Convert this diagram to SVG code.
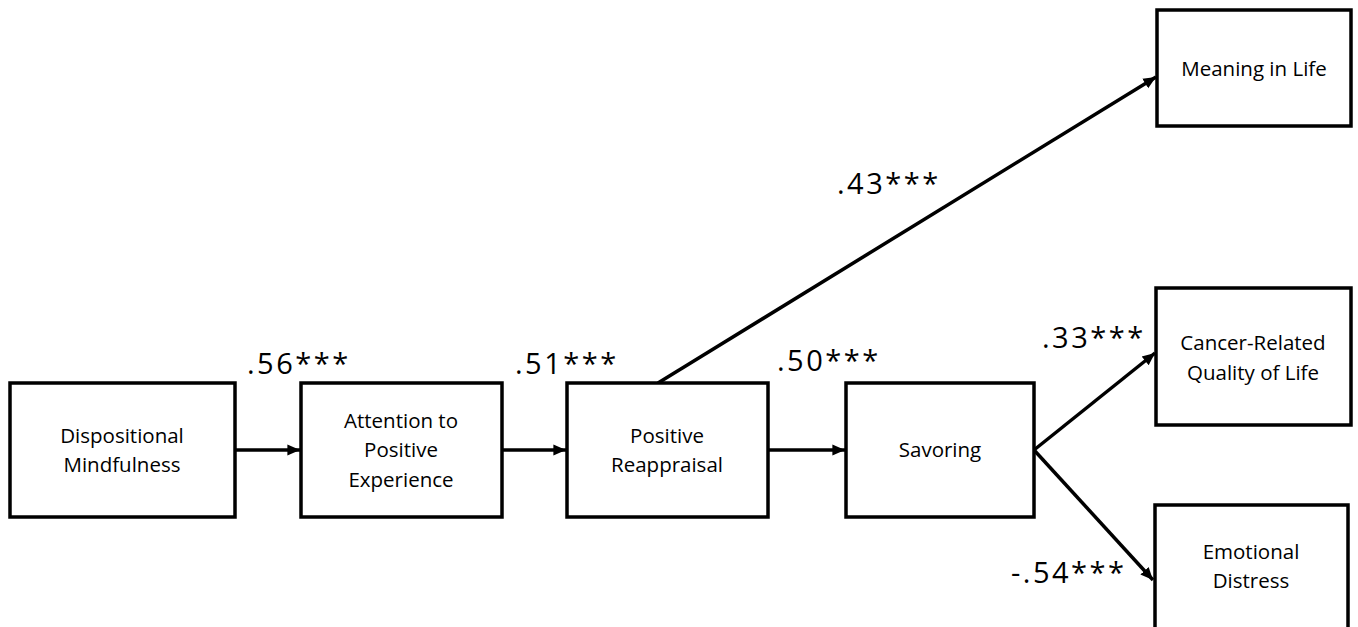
<svg xmlns="http://www.w3.org/2000/svg" width="1358" height="627" viewBox="0 0 1358 627">
<style>
.box{fill:#fff;stroke:#000;stroke-width:3.5}
.t{font-family:"Open Sans","Noto Sans",sans-serif;font-size:20.5px;fill:#000;text-anchor:middle}
.c{font-family:"Open Sans","Noto Sans",sans-serif;font-size:29px;letter-spacing:2.5px;fill:#000}
.e{stroke:#000;stroke-width:3.5;fill:none;marker-end:url(#ah)}
</style>
<defs>
<marker id="ah" markerWidth="4" markerHeight="4" refX="3.6" refY="2" orient="auto" markerUnits="strokeWidth">
<path d="M0,0.4 L3.6,2 L0,3.6 Z" fill="#000"/>
</marker>
</defs>
<rect width="1358" height="627" fill="#fff"/>
<g id="connectors">
<line class="e" x1="235" y1="450" x2="300" y2="450"/>
<line class="e" x1="502" y1="450" x2="566" y2="450"/>
<line class="e" x1="768" y1="450" x2="845" y2="450"/>
<line class="e" x1="658" y1="383" x2="1156" y2="77"/>
<line class="e" x1="1034" y1="450" x2="1155" y2="353"/>
<line class="e" x1="1034" y1="450" x2="1153" y2="580"/>
</g>
<g id="labels">
<text class="c" x="247" y="374">.56***</text>
<text class="c" x="515" y="374">.51***</text>
<text class="c" x="777" y="371">.50***</text>
<text class="c" x="837" y="194">.43***</text>
<text class="c" x="1042" y="348">.33***</text>
<text class="c" x="1011" y="583">-.54***</text>
</g>
<g id="n1">
<rect class="box" x="10" y="383" width="225" height="134"/>
<text class="t" x="122" y="443">Dispositional</text>
<text class="t" x="122" y="472">Mindfulness</text>
</g>
<g id="n2">
<rect class="box" x="301" y="383" width="201" height="134"/>
<text class="t" x="401" y="428">Attention to</text>
<text class="t" x="401" y="457">Positive</text>
<text class="t" x="401" y="487">Experience</text>
</g>
<g id="n3">
<rect class="box" x="567" y="383" width="201" height="134"/>
<text class="t" x="667" y="443">Positive</text>
<text class="t" x="667" y="472">Reappraisal</text>
</g>
<g id="n4">
<rect class="box" x="846" y="383" width="188" height="134"/>
<text class="t" x="940" y="457">Savoring</text>
</g>
<g id="n5">
<rect class="box" x="1157" y="10" width="194" height="116"/>
<text class="t" x="1254" y="76">Meaning in Life</text>
</g>
<g id="n6">
<rect class="box" x="1156" y="288" width="195" height="137"/>
<text class="t" x="1253" y="350">Cancer-Related</text>
<text class="t" x="1253" y="380">Quality of Life</text>
</g>
<g id="n7">
<rect class="box" x="1155" y="505" width="193" height="140"/>
<text class="t" x="1251" y="559">Emotional</text>
<text class="t" x="1251" y="588">Distress</text>
</g>
</svg>
